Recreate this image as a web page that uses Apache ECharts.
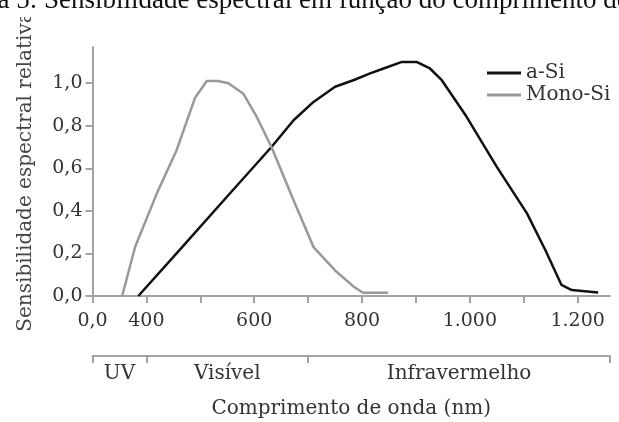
<!DOCTYPE html>
<html><head><meta charset="utf-8">
<script src="https://cdn.jsdelivr.net/npm/echarts@6/dist/echarts.min.js"></script>
<style>html,body{margin:0;padding:0;background:#fff}#c{width:619px;height:422px}</style>
</head><body><div id="c"></div>
<script>
const titleText = 'Figura 5: Sensibilidade espectral em função do comprimento de onda';
const seriesNames = ['a-Si', 'Mono-Si'];
const aSi = [[385,0],[463,0.22],[549,0.465],[632,0.70],[673,0.826],[710,0.912],[750,0.983],[785,1.015],[815,1.046],[840,1.069],[874,1.10],[901,1.10],[926,1.069],[948,1.014],[994,0.842],[1050,0.607],[1106,0.388],[1140,0.216],[1170,0.052],[1189,0.028],[1238,0.017]];
const monoSi = [[355,0],[379,0.23],[419,0.48],[456,0.685],[490,0.93],[512,1.01],[533,1.01],[552,1.0],[580,0.95],[605,0.84],[632,0.70],[673,0.45],[710,0.23],[750,0.12],[784,0.045],[802,0.015],[848,0.015]];
const xTickValues = [300,400,500,600,700,800,900,1000,1100,1200];
const xLabelValues = [300,400,600,800,1000,1200];
const xLabelTexts = ['0,0','400','600','800','1.000','1.200'];
const yTickValues = [0,0.2,0.4,0.6,0.8,1.0];
const yLabelTexts = ['0,0','0,2','0,4','0,6','0,8','1,0'];
const bandEdges = [300,400,700,1260];
const bandNames = ['UV','Visível','Infravermelho'];
const xName = 'Comprimento de onda (nm)';
const yName = 'Sensibilidade espectral relativa';

const FONT = 'DejaVu Serif';
const TXT = '#333';
const AX = '#a3a3a3';
const bandMids = bandNames.map((n, i) => (bandEdges[i] + bandEdges[i + 1]) / 2);
function pick(vals, texts) {
  return function (v) {
    for (let i = 0; i < vals.length; i++) if (Math.abs(vals[i] - v) < 1e-6) return texts[i];
    return '';
  };
}
const axLine = { show: true, lineStyle: { color: AX, width: 2 } };

const chart = echarts.init(document.getElementById('c'), null, { renderer: 'canvas' });
chart.setOption({
  animation: false,
  backgroundColor: '#fff',
  graphic: [
    { type: 'rect', z: 100, shape: { x: 0, y: 0, width: 619, height: 17 }, style: { fill: '#fff' } },
    { type: 'text', z: 101, x: -61, y: 1, style: { text: titleText, font: '27px "Liberation Serif"', fill: '#111', align: 'left', verticalAlign: 'middle' } }
  ],
  legend: {
    data: seriesNames, orient: 'vertical', left: 482, top: 58, icon: 'rect', itemWidth: 34, itemHeight: 3, itemGap: 2,
    textStyle: { fontFamily: FONT, fontSize: 20, color: TXT }
  },
  grid: [
    { left: 92.5, right: 9, top: 47, bottom: 126 },
    { left: 92.5, right: 9, top: 355, height: 1 }
  ],
  xAxis: [
    {
      type: 'value', gridIndex: 0, min: 300, max: 1260,
      axisLine: axLine,
      axisTick: { show: true, customValues: xTickValues, length: 7, lineStyle: { color: AX, width: 2 } },
      axisLabel: { customValues: xLabelValues, formatter: pick(xLabelValues, xLabelTexts), margin: 16, fontFamily: FONT, fontSize: 19, color: TXT },
      splitLine: { show: false }
    },
    {
      type: 'value', gridIndex: 1, min: 300, max: 1260, position: 'bottom',
      axisLine: axLine,
      axisTick: { show: true, customValues: bandEdges, length: 7, lineStyle: { color: AX, width: 2 } },
      axisLabel: { customValues: bandMids, formatter: pick(bandMids, bandNames), margin: 8, fontFamily: FONT, fontSize: 20, color: TXT },
      splitLine: { show: false },
      name: xName, nameLocation: 'middle', nameGap: 43,
      nameTextStyle: { fontFamily: FONT, fontSize: 20, color: TXT }
    }
  ],
  yAxis: [
    {
      type: 'value', gridIndex: 0, min: 0, max: 1.17,
      axisLine: axLine,
      axisTick: { show: true, customValues: yTickValues, length: 7, lineStyle: { color: AX, width: 2 } },
      axisLabel: { customValues: yTickValues, formatter: pick(yTickValues, yLabelTexts), margin: 10, fontFamily: FONT, fontSize: 19, color: TXT },
      splitLine: { show: false },
      name: yName, nameLocation: 'middle', nameGap: 57, nameRotate: 90,
      nameTextStyle: { fontFamily: FONT, fontSize: 20, color: '#444' }
    },
    { type: 'value', gridIndex: 1, min: 0, max: 1, show: false }
  ],
  series: [
    { name: seriesNames[0], type: 'line', xAxisIndex: 0, yAxisIndex: 0, data: aSi, symbol: 'none',
      lineStyle: { color: '#111', width: 2.5 }, itemStyle: { color: '#111' } },
    { name: seriesNames[1], type: 'line', xAxisIndex: 0, yAxisIndex: 0, data: monoSi, symbol: 'none',
      lineStyle: { color: '#999', width: 2.5 }, itemStyle: { color: '#999' } }
  ]
});
</script></body></html>
